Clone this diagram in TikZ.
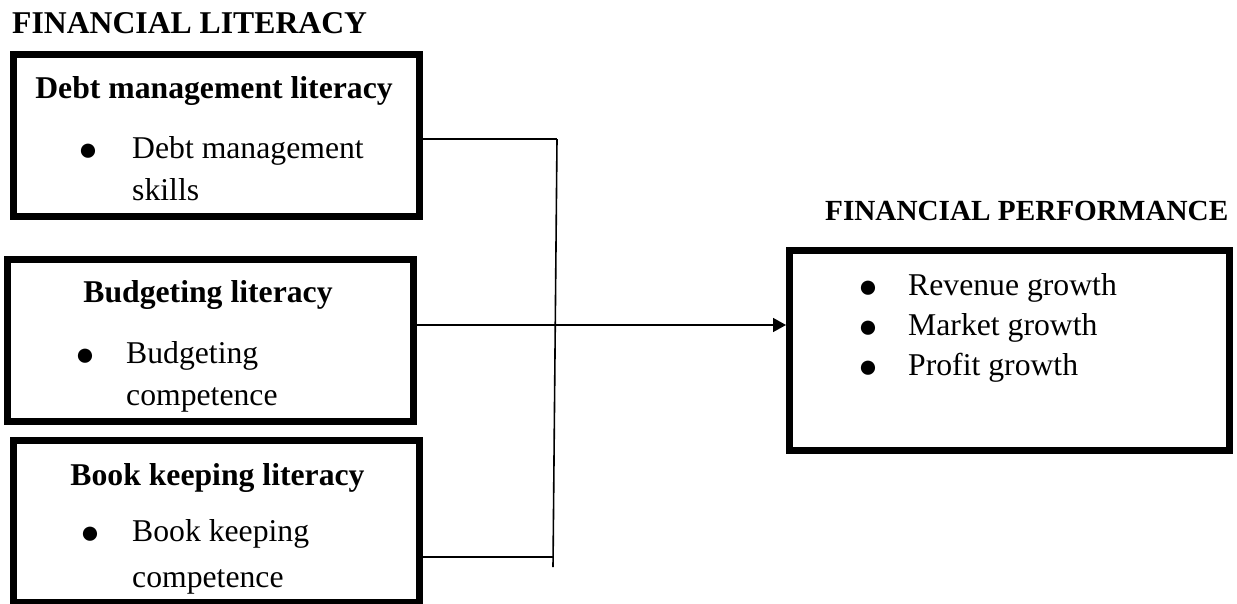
\documentclass[tikz,border=0pt]{standalone}
\usepackage{fontspec}
\setmainfont{Liberation Serif}
\usetikzlibrary{arrows.meta}
\begin{document}
\begin{tikzpicture}[x=1pt,y=-1pt,
  frame/.style={draw=black, line width=7pt, inner sep=0pt, rectangle},
  link/.style={draw=black, line width=1.6pt},
  hd/.style={font=\fontsize{31.7}{38}\selectfont\bfseries, anchor=base, inner sep=0pt},
  txt/.style={font=\fontsize{31.7}{38}\selectfont, anchor=base west, inner sep=0pt},
  bul/.style={font=\fontsize{33}{33}\selectfont, anchor=base, inner sep=0pt, yshift=-2.5pt},
]
\path[use as bounding box] (0,0) rectangle (1237,603);
\clip (0,0) rectangle (1237,603);

% titles
\node[hd, anchor=base west] (t1) at (12,33) {FINANCIAL LITERACY};
\node[hd, anchor=base west, font=\fontsize{29.2}{35}\selectfont\bfseries] (t2) at (825,220) {FINANCIAL PERFORMANCE};

% boxes
\node[frame, minimum width=406pt, minimum height=161.5pt] (b1) at (216.3,135.25) {};
\node[frame, minimum width=405.5pt, minimum height=162.5pt] (b2) at (210.25,340.25) {};
\node[frame, minimum width=406pt, minimum height=162pt] (b3) at (216.3,521) {};
\node[frame, minimum width=440pt, minimum height=200pt] (perf) at (1009.5,350) {};

% box 1 text
\node[hd] (h1) at (214,98) {Debt management literacy};
\node[bul] (u1) at (88,158) {●};
\node[txt] (a1) at (132,158) {Debt management};
\node[txt] (a2) at (132,200) {skills};

% box 2 text
\node[hd] (h2) at (208,302) {Budgeting literacy};
\node[bul] (u2) at (85,363) {●};
\node[txt] (c1) at (126,363) {Budgeting};
\node[txt] (c2) at (126,405) {competence};

% box 3 text
\node[hd] (h3) at (217.5,485) {Book keeping literacy};
\node[bul] (u3) at (90,541) {●};
\node[txt] (d1) at (132,541) {Book keeping};
\node[txt] (d2) at (132,587) {competence};

% performance text
\node[bul] (p1) at (868,295) {●};
\node[txt] (q1) at (908,295) {Revenue growth};
\node[bul] (p2) at (868,335) {●};
\node[txt] (q2) at (908,335) {Market growth};
\node[bul] (p3) at (868,375) {●};
\node[txt] (q3) at (908,375) {Profit growth};

% connectors
\coordinate (jt) at (557,139);
\coordinate (jm) at (555,325);
\coordinate (j3) at (553,557);
\coordinate (jb) at (553,567);
\draw[link] (b1.east |- jt) -- (jt);
\draw[link] (jt) -- (jb);
\draw[link] (b2.east |- jm) -- (jm);
\draw[link] (b3.east |- j3) -- (j3);
\draw[link, -{Triangle[length=13pt,width=14pt]}] (jm) -- (perf.west |- jm);
\end{tikzpicture}
\end{document}
